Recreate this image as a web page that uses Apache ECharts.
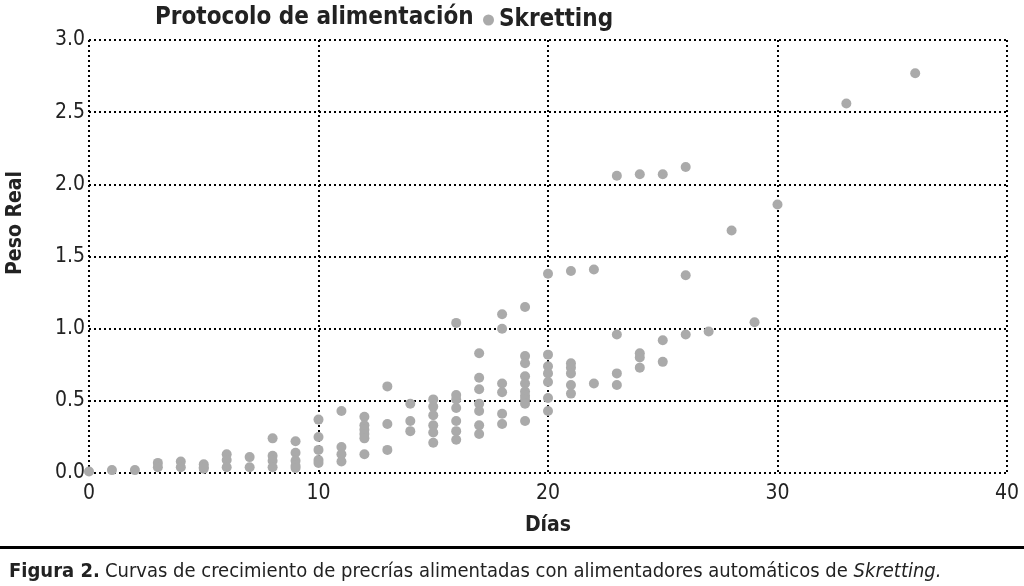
<!DOCTYPE html>
<html><head><meta charset="utf-8">
<script src="https://cdn.jsdelivr.net/npm/echarts@6/dist/echarts.min.js"></script>
<style>html,body{margin:0;padding:0;background:#fff}#c{width:1024px;height:586px}</style>
</head><body><div id="c"></div>
<script>
// Days sampled and weights observed on each day (Skretting)
const dias = [0,1,2,3,4,5,6,7,8,9,10,11,12,13,14,15,16,17,18,19,20,21,22,23,24,25,26,27,28,29,30,33,36];
const pesoPorDia = [
  [0.01],
  [0.02],
  [0.02],
  [0.07,0.04],
  [0.08,0.04],
  [0.06,0.04,0.03],
  [0.13,0.09,0.04],
  [0.11,0.04],
  [0.24,0.12,0.085,0.04],
  [0.22,0.14,0.085,0.05,0.035],
  [0.37,0.25,0.16,0.09,0.07],
  [0.43,0.18,0.13,0.08],
  [0.39,0.33,0.30,0.27,0.24,0.13],
  [0.60,0.34,0.16],
  [0.48,0.36,0.29],
  [0.51,0.46,0.40,0.33,0.28,0.21],
  [1.04,0.54,0.51,0.45,0.36,0.29,0.23],
  [0.83,0.66,0.58,0.48,0.43,0.33,0.27],
  [1.10,1.00,0.62,0.56,0.41,0.34],
  [1.15,0.81,0.76,0.67,0.62,0.565,0.535,0.51,0.48,0.36],
  [1.38,0.82,0.74,0.69,0.63,0.52,0.43],
  [1.40,0.76,0.73,0.69,0.61,0.55],
  [1.41,0.62],
  [2.06,0.96,0.69,0.61],
  [2.07,0.83,0.80,0.73],
  [2.07,0.92,0.77],
  [2.12,1.37,0.96],
  [0.98],
  [1.68],
  [1.045],
  [1.86],
  [2.56],
  [2.77]
];
const xTicks = [0,10,20,30,40];
const yTicks = [0,0.5,1,1.5,2,2.5,3];

const puntos = [];
dias.forEach((d,i)=>pesoPorDia[i].forEach(v=>puntos.push([d,v])));

const F = "'Liberation Sans Narrow','DejaVu Sans Condensed','Roboto Condensed',sans-serif";
const dotted = {color:'#000',width:2,type:[2,3]};

const chart = echarts.init(document.getElementById('c'));
chart.setOption({
  animation:false,
  backgroundColor:'#fff',
  textStyle:{fontFamily:F},
  title:[
    {text:'Protocolo de alimentación',left:150,top:1,
     textStyle:{fontFamily:F,fontSize:24,fontWeight:'bold',color:'#222'}},
    {text:'{b|Figura 2.} {n|Curvas de crecimiento de precrías alimentadas con alimentadores automáticos de }{i|Skretting.}',
     left:4,top:557,
     textStyle:{fontWeight:'normal',rich:{
       b:{fontFamily:F,fontSize:20,fontWeight:'bold',color:'#222'},
       n:{fontFamily:F,fontSize:20,fontWeight:'normal',color:'#222'},
       i:{fontFamily:F,fontSize:20,fontWeight:'normal',fontStyle:'italic',color:'#222'}}}}
  ],
  legend:{left:478,top:3,itemWidth:11,itemHeight:11,itemGap:12,
    data:[{name:'Skretting',icon:'circle'}],
    textStyle:{fontFamily:F,fontSize:24,fontWeight:'bold',color:'#222'}},
  graphic:[
    {type:'rect',left:0,top:546,shape:{width:1024,height:3},style:{fill:'#000'}},
    {type:'text',x:16,y:223,rotation:Math.PI/2,
     style:{text:'Peso Real',fill:'#222',font:"bold 21px "+F,align:'center',verticalAlign:'middle'}}
  ],
  grid:{left:89,right:17,top:40,bottom:113},
  xAxis:{type:'value',min:0,max:40,interval:10,
    name:'Días',nameLocation:'middle',nameGap:42,
    nameTextStyle:{fontFamily:F,fontSize:21,fontWeight:'bold',color:'#222'},
    axisLine:{show:false},axisTick:{show:false},
    axisLabel:{fontFamily:F,fontSize:21,color:'#222',margin:10,
      formatter:v=>xTicks.includes(v)?String(v):''},
    splitLine:{show:true,lineStyle:dotted}},
  yAxis:{type:'value',min:0,max:3,interval:0.5,
    axisLine:{show:false},axisTick:{show:false},
    axisLabel:{fontFamily:F,fontSize:21,color:'#222',margin:4,
      formatter:v=>yTicks.includes(v)?v.toFixed(1):''},
    splitLine:{show:true,lineStyle:dotted}},
  series:[{name:'Skretting',type:'scatter',symbol:'circle',symbolSize:10,
    itemStyle:{color:'#aaaaaa',opacity:1},data:puntos}]
});
</script></body></html>
